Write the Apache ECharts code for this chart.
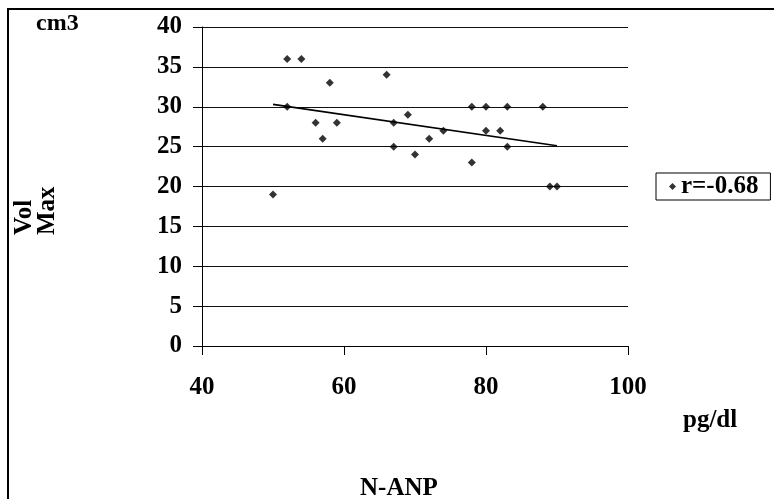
<!DOCTYPE html>
<html>
<head>
<meta charset="utf-8">
<script src="https://cdn.jsdelivr.net/npm/echarts@6/dist/echarts.min.js"></script>
<style>
  html, body { margin: 0; padding: 0; background: #fff; }
  #chart { width: 774px; height: 499px; }
</style>
</head>
<body>
<div id="chart"></div>
<script>
// N-ANP (pg/dl) vs Vol Max (cm3)
const nanp = [50, 52, 54, 52, 56, 57, 58, 59, 66, 67, 67, 69, 70, 72, 74, 78, 78, 80, 80, 82, 83, 83, 88, 89, 90];
const volMax = [19, 36, 36, 30, 28, 26, 33, 28, 34, 28, 25, 29, 24, 26, 27, 30, 23, 30, 27, 27, 30, 25, 30, 20, 20];
const trendX = [50, 90];
const trendY = [30.3, 25.1];
const xTicks = [40, 60, 80, 100];
const legendLabel = "r=-0.68";

const font = "'Liberation Serif', 'Times New Roman', serif";
const chart = echarts.init(document.getElementById("chart"));

chart.setOption({
  animation: false,
  backgroundColor: "#fff",
  grid: { left: 202, right: 146, top: 27, bottom: 153 },
  legend: {
    data: [legendLabel],
    left: 656,
    top: 173,
    orient: "vertical",
    borderColor: "#000",
    borderWidth: 1,
    borderRadius: 0,
    padding: [1, 12, 1, 13],
    itemWidth: 7,
    itemHeight: 7,
    itemGap: 0,
    textStyle: { fontFamily: font, fontWeight: "bold", fontSize: 25, color: "#000" },
  },
  xAxis: {
    type: "value",
    min: xTicks[0],
    max: xTicks[xTicks.length - 1],
    interval: 20,
    axisLine: { show: true, onZero: false, lineStyle: { color: "#000", width: 1 } },
    axisTick: { show: true, inside: false, length: 9, lineStyle: { color: "#000" } },
    axisLabel: { margin: 29, fontFamily: font, fontWeight: "bold", fontSize: 25, color: "#000" },
    splitLine: { show: false },
  },
  yAxis: {
    type: "value",
    min: 0,
    max: 40,
    interval: 5,
    axisLine: { show: true, lineStyle: { color: "#000", width: 1 } },
    axisTick: { show: true, inside: false, length: 9, lineStyle: { color: "#000" } },
    axisLabel: { margin: 20, fontFamily: font, fontWeight: "bold", fontSize: 25, color: "#000" },
    splitLine: { show: true, lineStyle: { color: "#111", width: 1 } },
  },
  series: [
    {
      name: legendLabel,
      type: "scatter",
      symbol: "diamond",
      symbolSize: 8,
      itemStyle: { color: "#000" },
      data: nanp.map((x, i) => [x, volMax[i]]),
    },
    {
      name: "trend",
      type: "line",
      showSymbol: false,
      lineStyle: { color: "#000", width: 1.6 },
      data: trendX.map((x, i) => [x, trendY[i]]),
    },
  ],
  graphic: [
    {
      type: "rect",
      shape: { x: 8, y: 9, width: 800, height: 520 },
      style: { fill: null, stroke: "#000", lineWidth: 2 },
      silent: true,
    },
    {
      type: "text",
      left: 36,
      top: 12,
      style: { text: "cm3", font: "bold 24px " + font, fill: "#000" },
    },
    {
      type: "text",
      x: 12,
      y: 235,
      rotation: Math.PI / 2,
      style: { text: "Vol", font: "bold 25px " + font, fill: "#000", textVerticalAlign: "top" },
    },
    {
      type: "text",
      x: 35,
      y: 235,
      rotation: Math.PI / 2,
      style: { text: "Max", font: "bold 25px " + font, fill: "#000", textVerticalAlign: "top" },
    },
    {
      type: "text",
      left: 683,
      top: 408,
      style: { text: "pg/dl", font: "bold 25px " + font, fill: "#000" },
    },
    {
      type: "text",
      left: 360,
      top: 476,
      style: { text: "N-ANP", font: "bold 25px " + font, fill: "#000" },
    },
  ],
});
</script>
</body>
</html>
